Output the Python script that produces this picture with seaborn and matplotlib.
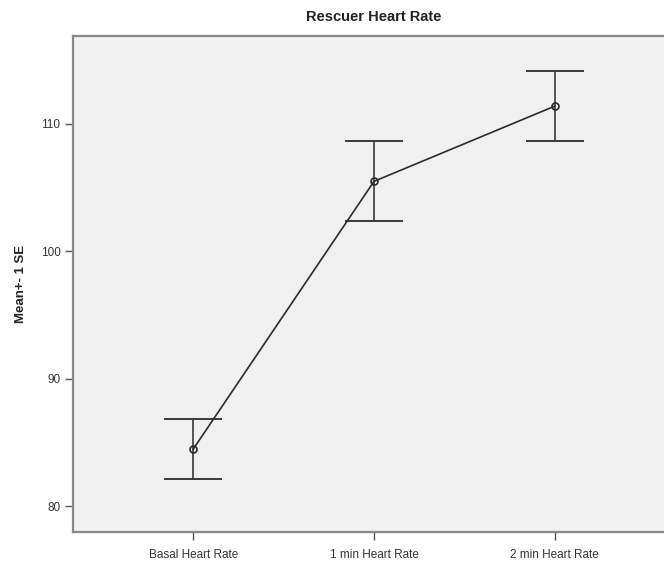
import numpy as np
import pandas as pd
import matplotlib
matplotlib.use('Agg')
from matplotlib import pyplot as plt
import seaborn as sns

# data
conditions = ['Basal Heart Rate', '1 min Heart Rate', '2 min Heart Rate']
mean_rate = [84.5, 105.5, 111.4]
se_rate = [2.35, 3.13, 2.72]
y_ticks = [80, 90, 100, 110]

df = pd.DataFrame({'condition': conditions, 'mean': mean_rate, 'se': se_rate})

sns.set_style('white')
plt.rcParams['font.family'] = ['Liberation Sans', 'DejaVu Sans']

fig = plt.figure(figsize=(6.64, 5.63), dpi=100)
ax = fig.add_axes([73 / 664, 31 / 563, 602 / 664, 496 / 563])
ax.set_facecolor('#f0f0f0')

# mean line with small open circles
sns.pointplot(data=df, x='condition', y='mean', ax=ax, color='#2a2a2a',
              markers='o', linewidth=1.2, markersize=5,
              markerfacecolor='none', markeredgewidth=1.2, errorbar=None)

# +/- 1 SE bars
pos = np.arange(len(conditions))
ax.errorbar(pos, df['mean'], yerr=df['se'], fmt='none', ecolor='#3a3a3a',
            elinewidth=1.2, capsize=21, capthick=1.4, zorder=1)

ax.set_xlim(-0.665, 2.665)
ax.set_ylim(78.0, 116.9)
ax.set_yticks(y_ticks)
ax.set_xlabel('')
ax.set_ylabel('Mean+- 1 SE', fontsize=9.5, fontweight='bold', labelpad=10,
              color='#222222')
ax.set_title('Rescuer Heart Rate', fontsize=10.5, fontweight='bold', pad=11,
             color='#222222')

ax.tick_params(axis='both', direction='out', length=6, width=1,
               color='#555555', labelsize=8.5, labelcolor='#333333',
               bottom=True, left=True)
ax.tick_params(axis='x', pad=6)
ax.tick_params(axis='y', pad=3)

for side in ['left', 'bottom', 'top', 'right']:
    ax.spines[side].set_color('#888888')
    ax.spines[side].set_linewidth(1.6)

fig.savefig('out.png', dpi=100, facecolor='white')
